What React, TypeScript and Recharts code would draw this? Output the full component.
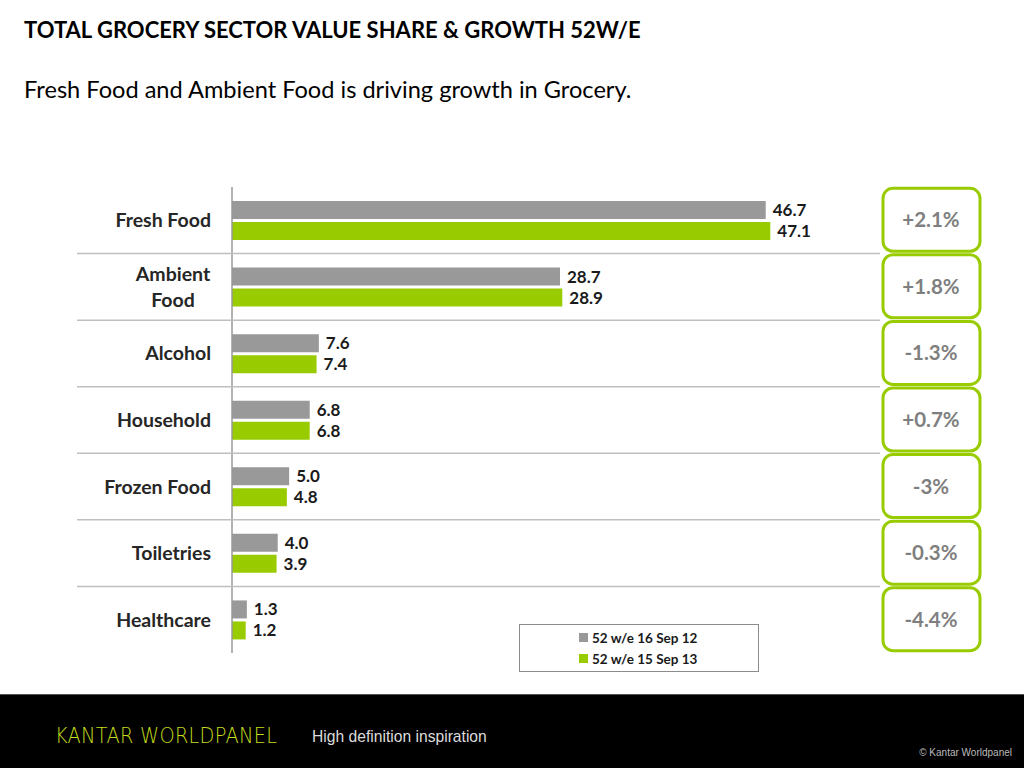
import React from "react";
import { Bar, BarChart, LabelList, XAxis, YAxis } from "recharts";

const categories = ["Fresh Food", "Ambient\nFood", "Alcohol", "Household", "Frozen Food", "Toiletries", "Healthcare"];
const share2012 = [46.7, 28.7, 7.6, 6.8, 5.0, 4.0, 1.3];
const share2013 = [47.1, 28.9, 7.4, 6.8, 4.8, 3.9, 1.2];
const growth = ["+2.1%", "+1.8%", "-1.3%", "+0.7%", "-3%", "-0.3%", "-4.4%"];
const seriesNames = ["52 w/e 16 Sep 12", "52 w/e 15 Sep 13"];

const GREY = "#999999";
const GREEN = "#99cc00";
const FONT = "Lato, 'Open Sans', sans-serif";

const rows = categories.map((cat, i) => ({ cat, prev: share2012[i], curr: share2013[i] }));

const BAND = 466 / categories.length;

function CatTick(props: any) {
  const { y, payload, index } = props;
  const lines = String(payload.value).split("\n");
  const last = index === categories.length - 1;
  return (
    <g>
      {!last && <line x1={77} x2={880} y1={y + BAND / 2} y2={y + BAND / 2} stroke="#bfbfbf" strokeWidth={1.5} />}
      {lines.length === 1 ? (
        <text x={211} y={y + 7} textAnchor="end" fontFamily={FONT} fontWeight={700} fontSize={19.5} fill="#262626">
          {lines[0]}
        </text>
      ) : (
        lines.map((l, k) => (
          <text key={k} x={173} y={y - 6 + k * 26} textAnchor="middle" fontFamily={FONT} fontWeight={700} fontSize={19.5} fill="#262626">
            {l}
          </text>
        ))
      )}
    </g>
  );
}

function GrowthTick(props: any) {
  const { y, index } = props;
  return (
    <g>
      <rect x={883} y={y - 32} width={97} height={63} rx={10} ry={10} fill="#fff" stroke={GREEN} strokeWidth={3} />
      <text x={931} y={y + 7} textAnchor="middle" fontFamily={FONT} fontWeight={700} fontSize={20.5} fill="#7f7f7f">
        {growth[index]}
      </text>
    </g>
  );
}

function LegendBox() {
  return (
    <div
      style={{
        position: "absolute",
        left: 519,
        top: 624,
        width: 240,
        height: 48,
        border: "1px solid #8c8c8c",
        background: "#fff",
        fontFamily: FONT,
        fontWeight: 700,
        fontSize: 13.5,
        color: "#1a1a1a",
        boxSizing: "border-box",
        paddingTop: 2,
        paddingLeft: 59,
      }}
    >
      {seriesNames.map((n, i) => (
        <div key={n} style={{ display: "flex", alignItems: "center", height: 21 }}>
          <span style={{ display: "inline-block", width: 9, height: 9, background: i === 0 ? GREY : GREEN, marginRight: 4 }} />
          {n}
        </div>
      ))}
    </div>
  );
}

const valueLabelStyle = { fontFamily: FONT, fontWeight: 700, fontSize: 17, fill: "#1a1a1a" };

export default function App() {
  return (
    <div style={{ position: "absolute", left: 0, top: 0, width: 1024, height: 768, background: "#fff", overflow: "hidden" }}>
      <div style={{ position: "absolute", left: 24, top: 16, fontFamily: FONT, fontWeight: 700, fontSize: 22, color: "#000" }}>
        TOTAL GROCERY SECTOR VALUE SHARE &amp; GROWTH 52W/E
      </div>
      <div style={{ position: "absolute", left: 24, top: 75, fontFamily: FONT, fontSize: 23.6, color: "#000" }}>
        Fresh Food and Ambient Food is driving growth in Grocery.
      </div>

      <div style={{ position: "absolute", left: 0, top: 0 }}>
        <BarChart
          width={1024}
          height={700}
          data={rows}
          layout="vertical"
          margin={{ top: 187, right: 0, bottom: 47, left: 0 }}
          barGap={3}
          barSize={18}
        >
          <XAxis type="number" hide domain={[0, 56.7]} />
          <YAxis
            yAxisId="cat"
            type="category"
            dataKey="cat"
            width={232}
            tickLine={false}
            axisLine={{ stroke: "#999", strokeWidth: 1.5 }}
            tick={<CatTick />}
            interval={0}
          />
          <YAxis
            yAxisId="g"
            orientation="right"
            type="category"
            dataKey="cat"
            width={144}
            tickLine={false}
            axisLine={false}
            tick={<GrowthTick />}
            interval={0}
          />
          <Bar yAxisId="cat" dataKey="prev" name={seriesNames[0]} fill={GREY} isAnimationActive={false}>
            <LabelList dataKey="prev" position="right" offset={7} formatter={(v: any) => Number(v).toFixed(1)} style={valueLabelStyle} />
          </Bar>
          <Bar yAxisId="cat" dataKey="curr" name={seriesNames[1]} fill={GREEN} isAnimationActive={false}>
            <LabelList dataKey="curr" position="right" offset={7} formatter={(v: any) => Number(v).toFixed(1)} style={valueLabelStyle} />
          </Bar>
        </BarChart>
      </div>

      <LegendBox />

      <div style={{ position: "absolute", left: 0, top: 694, width: 1024, height: 74, background: "#000", borderTop: "1px solid #555" }}>
        <div
          style={{
            position: "absolute",
            left: 55,
            top: 29,
            fontFamily: "'DejaVu Sans', sans-serif",
            fontWeight: 300,
            fontSize: 21,
            letterSpacing: 0.3,
            color: "#c4dc1a",
            transform: "scaleX(0.92)",
            transformOrigin: "left center",
          }}
        >
          KANTAR WORLDPANEL
        </div>
        <div
          style={{
            position: "absolute",
            left: 312,
            top: 32,
            fontFamily: "'Liberation Sans Narrow', 'Liberation Sans', sans-serif",
            fontSize: 17,
            color: "#dcdcdc",
            transform: "scaleX(0.92)",
            transformOrigin: "left center",
          }}
        >
          High definition inspiration
        </div>
        <div
          style={{
            position: "absolute",
            right: 12,
            top: 52,
            fontFamily: "'Liberation Sans Narrow', 'Liberation Sans', sans-serif",
            fontSize: 10,
            color: "#bbb",
          }}
        >
          © Kantar Worldpanel
        </div>
      </div>
    </div>
  );
}
